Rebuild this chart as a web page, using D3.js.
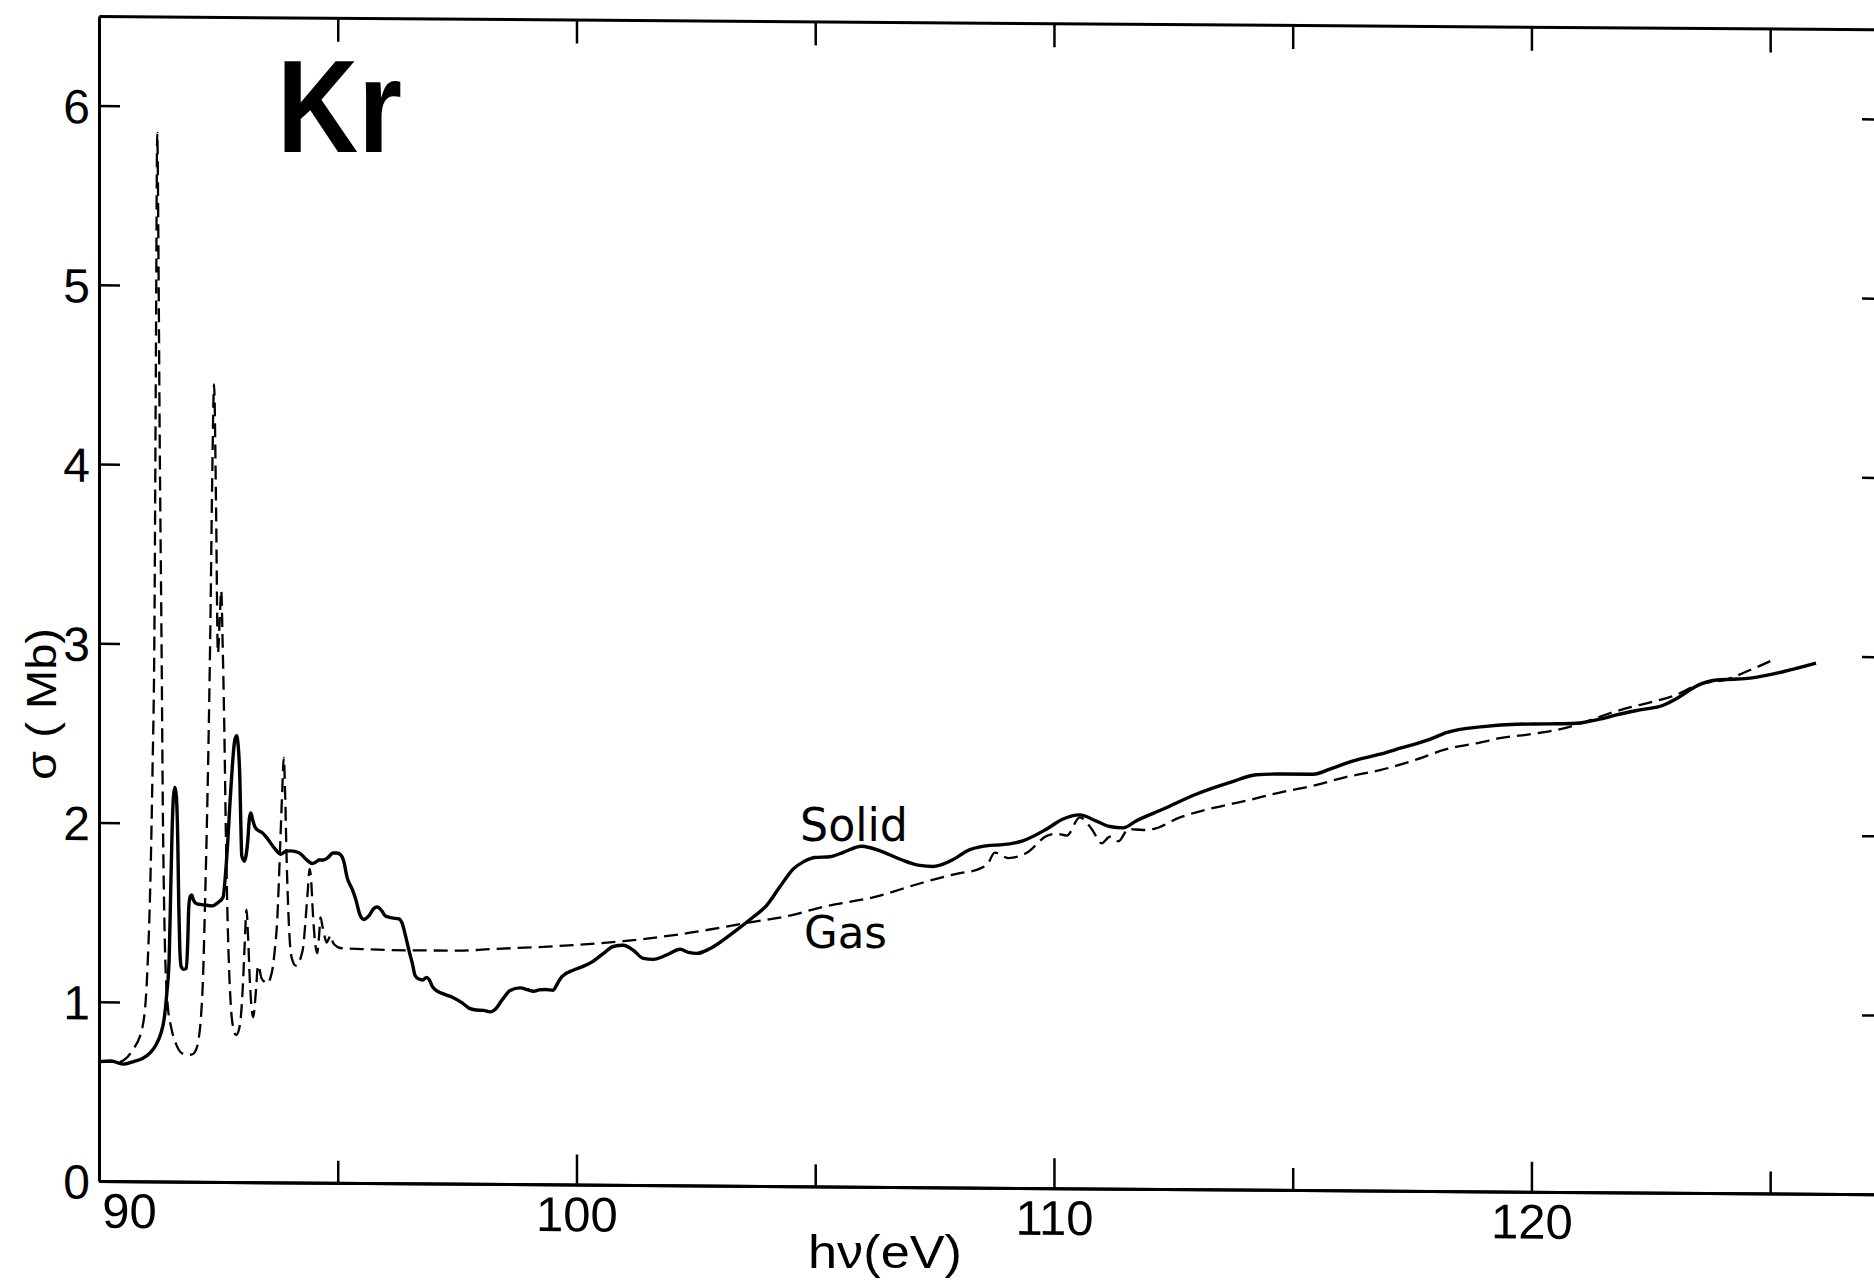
<!DOCTYPE html>
<html>
<head>
<meta charset="utf-8">
<script src="https://cdn.jsdelivr.net/npm/d3@7"></script>
<style>
  body { margin: 0; background: #fff; }
  .tick text { font-family: "Liberation Sans Narrow", "Liberation Sans", Arial, sans-serif; }
</style>
</head>
<body>
<div id="chart"></div>
<script>
// photon energy (eV) and cross-section (Mb)
var gasEnergy = [90.00, 90.40, 90.70, 90.91, 91.01, 91.08, 91.12, 91.16, 91.19, 91.22, 91.25, 91.27,
    91.31, 91.34, 91.37, 91.43, 91.52, 91.61, 91.72, 91.85, 91.95, 92.02, 92.09, 92.13, 92.18,
    92.22, 92.26, 92.29, 92.33, 92.37, 92.41, 92.45, 92.49, 92.53, 92.56, 92.59, 92.62, 92.66,
    92.69, 92.73, 92.77, 92.82, 92.87, 92.93, 92.97, 93.01, 93.05, 93.09, 93.12, 93.16, 93.20,
    93.23, 93.26, 93.29, 93.33, 93.36, 93.40, 93.46, 93.53, 93.59, 93.64, 93.69, 93.73, 93.77,
    93.80, 93.84, 93.87, 93.90, 93.93, 93.96, 94.00, 94.05, 94.12, 94.18, 94.23, 94.28, 94.33,
    94.37, 94.41, 94.44, 94.48, 94.53, 94.57, 94.61, 94.64, 94.68, 94.72, 94.77, 94.81, 94.85,
    94.90, 94.97, 95.05, 95.50, 96.50, 97.50, 98.19, 99.59, 100.98, 102.38, 103.63, 104.47,
    105.17, 106.21, 107.26, 107.96, 108.45, 108.62, 108.76, 109.04, 109.43, 109.85, 110.06,
    110.27, 110.54, 110.79, 111.00, 111.17, 111.35, 111.56, 111.87, 112.08, 112.64, 113.34,
    114.03, 114.73, 115.43, 116.13, 116.83, 117.52, 118.22, 118.92, 119.34, 120.04, 120.74,
    121.08, 121.64, 122.13, 122.55, 122.97, 123.53, 124.09, 124.58, 125.12];
var gasSigma = [0.665, 0.665, 0.73, 0.86, 1.16, 1.72, 2.28, 3.05, 4.50, 5.85, 5.00, 4.20,
    3.00, 2.00, 1.45, 1.01, 0.85, 0.77, 0.72, 0.707, 0.71, 0.73, 0.80, 0.90, 1.15,
    1.55, 2.00, 2.40, 3.05, 3.90, 4.45, 3.80, 2.95, 3.15, 3.30, 3.00, 2.60, 1.90,
    1.50, 1.15, 0.95, 0.85, 0.82, 0.85, 0.92, 1.08, 1.32, 1.52, 1.38, 1.12, 0.96,
    0.92, 0.98, 1.08, 1.21, 1.19, 1.14, 1.12, 1.11, 1.14, 1.20, 1.32, 1.45, 1.70,
    1.92, 2.20, 2.37, 2.15, 1.80, 1.55, 1.33, 1.24, 1.21, 1.22, 1.26, 1.32, 1.48,
    1.62, 1.75, 1.70, 1.50, 1.33, 1.28, 1.38, 1.48, 1.43, 1.38, 1.34, 1.36, 1.38,
    1.34, 1.32, 1.31, 1.305, 1.30, 1.30, 1.31, 1.33, 1.36, 1.41, 1.47, 1.51,
    1.56, 1.615, 1.70, 1.75, 1.78, 1.81, 1.87, 1.84, 1.87, 1.965, 1.977,
    1.968, 2.07, 2.006, 1.926, 1.963, 1.938, 2.007, 2.002, 2.008, 2.074, 2.128,
    2.17, 2.217, 2.256, 2.307, 2.346, 2.40, 2.466, 2.504, 2.529, 2.555, 2.591,
    2.619, 2.673, 2.711, 2.74, 2.772, 2.84, 2.867, 2.92, 2.985];

var solidEnergy = [90.00, 90.25, 90.52, 90.75, 90.91, 91.08, 91.19, 91.30, 91.36, 91.42, 91.47,
    91.50, 91.53, 91.56, 91.59, 91.62, 91.65, 91.67, 91.69, 91.72, 91.77, 91.83, 91.86, 91.88,
    91.91, 91.94, 91.98, 92.05, 92.20, 92.37, 92.50, 92.60, 92.65, 92.69, 92.74, 92.79, 92.84,
    92.88, 92.92, 92.95, 92.97, 92.99, 93.05, 93.09, 93.12, 93.15, 93.18, 93.22, 93.27, 93.35,
    93.42, 93.52, 93.63, 93.72, 93.80, 93.90, 94.01, 94.19, 94.35, 94.47, 94.55, 94.61, 94.70,
    94.80, 94.90, 94.98, 95.06, 95.12, 95.20, 95.30, 95.38, 95.46, 95.55, 95.65, 95.75, 95.83,
    95.92, 96.00, 96.14, 96.28, 96.35, 96.42, 96.50, 96.56, 96.62, 96.70, 96.78, 96.86, 96.91,
    96.98, 97.05, 97.20, 97.40, 97.60, 97.75, 97.90, 98.05, 98.20, 98.30, 98.45, 98.61, 98.82,
    98.98, 99.10, 99.22, 99.34, 99.51, 99.60, 99.69, 99.93, 100.14, 100.32, 100.56, 100.77,
    100.98, 101.19, 101.40, 101.61, 101.89, 102.17, 102.35, 102.52, 102.80, 103.07, 103.42,
    103.70, 103.98, 104.26, 104.54, 104.75, 104.99, 105.31, 105.59, 105.97, 106.36, 106.77,
    107.19, 107.47, 107.82, 108.24, 108.66, 108.87, 109.36, 109.85, 110.19, 110.54, 110.89,
    111.17, 111.45, 111.73, 112.29, 112.99, 113.69, 114.24, 114.73, 115.43, 115.78, 116.27,
    116.83, 117.25, 117.87, 118.22, 118.99, 119.69, 120.39, 120.94, 121.43, 121.78, 122.27,
    122.76, 123.11, 123.46, 123.88, 124.23, 124.58, 125.27, 125.96];
var solidSigma = [0.666, 0.67, 0.653, 0.67, 0.685, 0.72, 0.76, 0.83, 0.90, 1.05, 1.25,
    1.60, 1.95, 2.15, 2.20, 2.15, 1.90, 1.55, 1.32, 1.20, 1.185, 1.19, 1.35, 1.53,
    1.59, 1.60, 1.57, 1.55, 1.545, 1.54, 1.56, 1.59, 1.72, 1.87, 2.10, 2.31, 2.46,
    2.49, 2.42, 2.25, 2.00, 1.82, 1.79, 1.84, 1.92, 2.03, 2.06, 2.02, 1.98, 1.96,
    1.95, 1.92, 1.88, 1.85, 1.83, 1.845, 1.85, 1.84, 1.80, 1.78, 1.79, 1.80, 1.80,
    1.815, 1.84, 1.84, 1.83, 1.80, 1.70, 1.64, 1.58, 1.50, 1.47, 1.49, 1.53, 1.54,
    1.52, 1.49, 1.48, 1.475, 1.45, 1.38, 1.29, 1.23, 1.16, 1.14, 1.135, 1.15, 1.14,
    1.10, 1.08, 1.06, 1.04, 1.01, 0.98, 0.97, 0.968, 0.96, 0.975, 1.03, 1.08, 1.095,
    1.085, 1.077, 1.085, 1.087, 1.083, 1.12, 1.158, 1.196, 1.218, 1.242, 1.29, 1.33,
    1.337, 1.31, 1.265, 1.26, 1.285, 1.317, 1.30, 1.295, 1.323, 1.37, 1.44,
    1.50, 1.565, 1.67, 1.77, 1.81, 1.835, 1.84, 1.865, 1.90, 1.875, 1.83,
    1.795, 1.79, 1.82, 1.885, 1.91, 1.913, 1.938, 2.004, 2.06, 2.084, 2.05,
    2.02, 2.013, 2.054, 2.12, 2.205, 2.271, 2.315, 2.32, 2.32, 2.35, 2.397,
    2.435, 2.469, 2.52, 2.558, 2.593, 2.608, 2.611, 2.616, 2.64, 2.664, 2.693,
    2.72, 2.769, 2.829, 2.863, 2.868, 2.875, 2.912, 2.961];

var xMajorTicks = [90, 100, 110, 120];
var xMinorTicks = [95, 105, 115, 125];
var xTopTicks = [95, 100, 105, 110, 115, 120, 125];
var yTicks = [0, 1, 2, 3, 4, 5, 6];
var yRightTicks = [1, 2, 3, 4, 5, 6];

var chartWidth = 1874, chartHeight = 1283;
var plotLeft = 99, plotRight = 1880, plotTop = 16, plotBottom = 1181;
var skewDeg = 0.43; // the scanned frame sags slightly to the right

var svg = d3.select("#chart").append("svg")
    .attr("width", chartWidth)
    .attr("height", chartHeight)
    .style("display", "block");
svg.append("rect").attr("width", chartWidth).attr("height", chartHeight).attr("fill", "#fff");

var plot = svg.append("g")
    .attr("transform", "translate(" + plotLeft + ",0) skewY(" + skewDeg + ") translate(" + (-plotLeft) + ",0)");

// scales
var x = d3.scaleLinear().domain([90, 127.3]).range([plotLeft, plotRight]);
var y = d3.scaleLinear().domain([0, 6.5]).range([plotBottom, plotTop]);

// axes
var xAxis = d3.axisBottom(x).tickValues(xMajorTicks)
    .tickSizeInner(-30).tickSizeOuter(0).tickPadding(12).tickFormat(d3.format("d"));
var gx = plot.append("g").attr("transform", "translate(0," + plotBottom + ")").call(xAxis);
gx.selectAll("text").attr("font-size", 49).attr("fill", "#000");
gx.selectAll(".tick text").filter(function(d) { return d == 90; }).attr("x", 30);

plot.append("g").attr("transform", "translate(0," + plotBottom + ")")
    .call(d3.axisBottom(x).tickValues(xMinorTicks).tickSizeInner(-22).tickSizeOuter(0).tickFormat(""));

plot.append("g").attr("transform", "translate(0," + plotTop + ")")
    .call(d3.axisTop(x).tickValues(xTopTicks).tickSizeInner(-24).tickSizeOuter(0).tickFormat(""));

var yAxis = d3.axisLeft(y).tickValues(yTicks)
    .tickSizeInner(-21).tickSizeOuter(0).tickPadding(9).tickFormat(d3.format("d"));
var gy = plot.append("g").attr("transform", "translate(" + plotLeft + ",0)").call(yAxis);
gy.selectAll("text").attr("font-size", 48).attr("fill", "#000").attr("dy", "0.36em");

plot.append("g").attr("transform", "translate(" + plotRight + ",0)")
    .call(d3.axisRight(y).tickValues(yRightTicks).tickSizeInner(-18).tickSizeOuter(0).tickFormat(""));

plot.selectAll(".domain").attr("stroke", "#000").attr("stroke-width", 3);
plot.selectAll(".tick line").attr("stroke", "#000").attr("stroke-width", 2.5);

// curves
var line = d3.line()
    .x(function(d) { return x(d[0]); })
    .y(function(d) { return y(d[1]); })
    .curve(d3.curveMonotoneX);

var gasData = d3.zip(gasEnergy, gasSigma);
var solidData = d3.zip(solidEnergy, solidSigma);

plot.append("path")
    .datum(gasData)
    .attr("d", line)
    .attr("fill", "none")
    .attr("stroke", "#000")
    .attr("stroke-width", 2.3)
    .attr("stroke-dasharray", "14,7");

plot.append("path")
    .datum(solidData)
    .attr("d", line)
    .attr("fill", "none")
    .attr("stroke", "#000")
    .attr("stroke-width", 3.4)
    .attr("stroke-linejoin", "round");

// labels
svg.append("text")
    .attr("x", 277).attr("y", 152)
    .attr("font-family", "Liberation Sans, Arial, sans-serif")
    .attr("font-weight", "bold")
    .attr("font-size", 131)
    .attr("textLength", 125)
    .attr("lengthAdjust", "spacingAndGlyphs")
    .text("Kr");

svg.append("text")
    .attr("x", 800).attr("y", 841)
    .attr("font-family", "DejaVu Sans, sans-serif")
    .attr("font-size", 46)
    .attr("textLength", 108)
    .attr("lengthAdjust", "spacingAndGlyphs")
    .text("Solid");

svg.append("text")
    .attr("x", 804).attr("y", 948)
    .attr("font-family", "DejaVu Sans, sans-serif")
    .attr("font-size", 44)
    .attr("textLength", 83)
    .attr("lengthAdjust", "spacingAndGlyphs")
    .text("Gas");

svg.append("text")
    .attr("x", 808).attr("y", 1268)
    .attr("font-family", "Liberation Sans Narrow, Liberation Sans, Arial, sans-serif")
    .attr("font-size", 46)
    .attr("textLength", 154)
    .attr("lengthAdjust", "spacingAndGlyphs")
    .text("hν(eV)");

svg.append("text")
    .attr("transform", "translate(56,704) rotate(-90)")
    .attr("text-anchor", "middle")
    .attr("font-family", "Liberation Sans Narrow, Liberation Sans, Arial, sans-serif")
    .attr("font-size", 42)
    .attr("textLength", 152)
    .attr("lengthAdjust", "spacingAndGlyphs")
    .text("σ ( Mb)");
</script>
</body>
</html>
